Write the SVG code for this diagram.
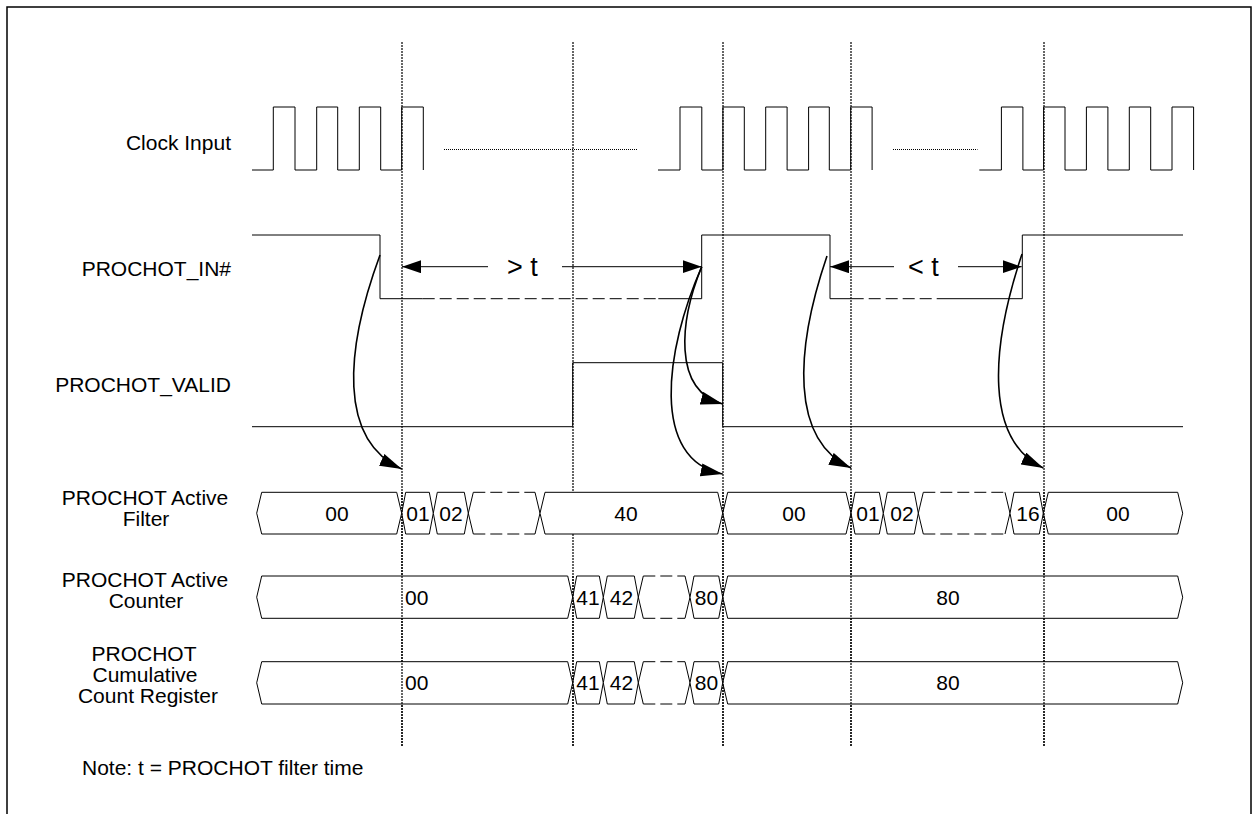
<svg xmlns="http://www.w3.org/2000/svg" width="1258" height="814" viewBox="0 0 1258 814">
<style>
text{font-family:"Liberation Sans",Arial,sans-serif;font-size:21px;fill:#000}
.lbl{text-anchor:end}
.mlbl{text-anchor:middle}
.bt{text-anchor:middle}
.sig{fill:none;stroke:#000;stroke-width:1}
.dash{fill:none;stroke:#000;stroke-width:1;stroke-dasharray:12 5}
.dot{fill:none;stroke:#000;stroke-width:1;stroke-dasharray:1 1}
.vl{fill:none;stroke:#000;stroke-width:1.2;stroke-dasharray:2 1}
.bus{fill:#fff;stroke:#000;stroke-width:1}
.arr{fill:none;stroke:#000;stroke-width:1;marker-end:url(#ah)}
.carr{fill:none;stroke:#000;stroke-width:1.6;marker-end:url(#ch)}
</style>
<defs>
<marker id="ah" markerUnits="userSpaceOnUse" markerWidth="20" markerHeight="14" refX="19" refY="6.5" orient="auto"><path d="M0,0 L19,6.5 L0,13 z" fill="#000"/></marker>
<marker id="ch" markerUnits="userSpaceOnUse" markerWidth="24" markerHeight="14" refX="22" refY="6.5" orient="auto"><path d="M0,0 L22,6.5 L0,13 z" fill="#000"/></marker>
</defs>
<rect width="1258" height="814" fill="#fff"/>
<path d="M7,814 V7 H1251 V814" fill="none" stroke="#000" stroke-width="1.5"/>

<g id="gridlines">
<path class="vl" d="M402,42 V747 M573,42 V747 M723,42 V747 M851,42 V747 M1044,42 V747"/>
</g>

<g id="clock">
<text class="lbl" x="231" y="150">Clock Input</text>
<path class="sig" d="M252,170 H273.3 V107 H295 V170 H316.7 V107 H337.7 V170 H359.3 V107 H380.7 V170 H401.7 V107 H423.3 V170"/>
<path class="sig" d="M658,170 H680 V107 H701.8 V170 H722.9 V107 H744.3 V170 H765.7 V107 H787.1 V170 H808.6 V107 H829.3 V170 H850.7 V107 H872.1 V170"/>
<path class="sig" d="M979.3,170 H1001.4 V107 H1022.9 V170 H1043.6 V107 H1065 V170 H1086.4 V107 H1107.9 V170 H1129.3 V107 H1150.7 V170 H1172 V107 H1193.6 V170"/>
<path class="dot" d="M444,149.5 H637 M893,149.5 H977.5"/>
</g>

<g id="prochot_in">
<text class="lbl" x="231" y="276">PROCHOT_IN#</text>
<path class="sig" d="M252,235 H380 V298.7 H422.7"/>
<path class="dash" d="M422.7,298.7 H658.3"/>
<path class="sig" d="M658.3,298.7 H701.7 V235 H830 V298.7 H851.7"/>
<path class="dash" d="M851.7,298.7 H936.7"/>
<path class="sig" d="M936.7,298.7 H1022.3 V235 H1183"/>
</g>

<g id="prochot_valid">
<text class="lbl" x="231" y="392">PROCHOT_VALID</text>
<path class="sig" d="M252,426.7 H572.7 V362.7 H722.7 V426.7 H1183"/>
</g>

<g id="active_filter">
<text class="mlbl" x="145" y="505">PROCHOT Active</text>
<text class="mlbl" x="146" y="526">Filter</text>
<polygon class="bus" points="256.7,513.2 261.7,492.3 396.7,492.3 401.7,513.2 396.7,534 261.7,534"/>
<text class="bt" x="337" y="520.5">00</text>
<polygon class="bus" points="401.7,513.2 405.7,492.3 429.3,492.3 433.3,513.2 429.3,534 405.7,534"/>
<text class="bt" x="418" y="520.5">01</text>
<polygon class="bus" points="433.3,513.2 437.3,492.3 464.3,492.3 468.3,513.2 464.3,534 437.3,534"/>
<text class="bt" x="451" y="520.5">02</text>
<path class="sig" d="M473.3,492.3 L468.3,513.2 L473.3,534 M535,492.3 L540,513.2 L535,534"/>
<path class="dash" d="M473.3,492.3 H535 M473.3,534 H535"/>
<polygon class="bus" points="540,513.2 545,492.3 717.7,492.3 722.7,513.2 717.7,534 545,534"/>
<text class="bt" x="626" y="520.5">40</text>
<polygon class="bus" points="722.7,513.2 727.7,492.3 846,492.3 851,513.2 846,534 727.7,534"/>
<text class="bt" x="794" y="520.5">00</text>
<polygon class="bus" points="851,513.2 855,492.3 879.3,492.3 883.3,513.2 879.3,534 855,534"/>
<text class="bt" x="868" y="520.5">01</text>
<polygon class="bus" points="883.3,513.2 887.3,492.3 914.3,492.3 918.3,513.2 914.3,534 887.3,534"/>
<text class="bt" x="902" y="520.5">02</text>
<path class="sig" d="M923.3,492.3 L918.3,513.2 L923.3,534 M1005,492.3 L1010,513.2 L1005,534"/>
<path class="dash" d="M923.3,492.3 H1005 M923.3,534 H1005"/>
<polygon class="bus" points="1010,513.2 1014,492.3 1039.3,492.3 1043.3,513.2 1039.3,534 1014,534"/>
<text class="bt" x="1028" y="520.5">16</text>
<polygon class="bus" points="1043.3,513.2 1048.3,492.3 1177.7,492.3 1182.7,513.2 1177.7,534 1048.3,534"/>
<text class="bt" x="1118" y="520.5">00</text>
</g>

<g id="active_counter">
<text class="mlbl" x="145" y="587">PROCHOT Active</text>
<text class="mlbl" x="146" y="608">Counter</text>
<polygon class="bus" points="256.7,597.2 261.7,576 567.7,576 572.7,597.2 567.7,618.3 261.7,618.3"/>
<text x="405" y="604.5">00</text>
<polygon class="bus" points="572.7,597.2 576.7,576 599.3,576 603.3,597.2 599.3,618.3 576.7,618.3"/>
<text class="bt" x="588" y="604.5">41</text>
<polygon class="bus" points="603.3,597.2 607.3,576 634.3,576 638.3,597.2 634.3,618.3 607.3,618.3"/>
<text class="bt" x="621.5" y="604.5">42</text>
<path class="sig" d="M643.3,576 L638.3,597.2 L643.3,618.3 M685,576 L690,597.2 L685,618.3"/>
<path class="dash" d="M643.3,576 H685 M643.3,618.3 H685"/>
<polygon class="bus" points="690,597.2 694,576 718.7,576 722.7,597.2 718.7,618.3 694,618.3"/>
<text class="bt" x="706.5" y="604.5">80</text>
<polygon class="bus" points="722.7,597.2 727.7,576 1177.7,576 1182.7,597.2 1177.7,618.3 727.7,618.3"/>
<text class="bt" x="948" y="604.5">80</text>
</g>

<g id="cumulative_count">
<text class="mlbl" x="144" y="661">PROCHOT</text>
<text class="mlbl" x="145" y="682">Cumulative</text>
<text class="mlbl" x="148" y="703">Count Register</text>
<polygon class="bus" points="256.7,682.8 261.7,661.7 567.7,661.7 572.7,682.8 567.7,704 261.7,704"/>
<text x="405" y="690">00</text>
<polygon class="bus" points="572.7,682.8 576.7,661.7 599.3,661.7 603.3,682.8 599.3,704 576.7,704"/>
<text class="bt" x="588" y="690">41</text>
<polygon class="bus" points="603.3,682.8 607.3,661.7 634.3,661.7 638.3,682.8 634.3,704 607.3,704"/>
<text class="bt" x="621.5" y="690">42</text>
<path class="sig" d="M643.3,661.7 L638.3,682.8 L643.3,704 M685,661.7 L690,682.8 L685,704"/>
<path class="dash" d="M643.3,661.7 H685 M643.3,704 H685"/>
<polygon class="bus" points="690,682.8 694,661.7 718.7,661.7 722.7,682.8 718.7,704 694,704"/>
<text class="bt" x="706.5" y="690">80</text>
<polygon class="bus" points="722.7,682.8 727.7,661.7 1177.7,661.7 1182.7,682.8 1177.7,704 727.7,704"/>
<text class="bt" x="948" y="690">80</text>
</g>

<g id="gridlines-over">
<path class="vl" d="M402,492 V747 M573,576 V747 M723,492 V747 M851,492 V747 M1044,492 V747"/>
</g>

<g id="connectors">
<path class="arr" d="M488,266.7 H402"/>
<path class="arr" d="M562,266.7 H701.7"/>
<text x="507" y="276" style="font-size:27px">&gt; t</text>
<path class="arr" d="M894,266.7 H830"/>
<path class="arr" d="M958,266.7 H1021.7"/>
<text x="908" y="276" style="font-size:27px">&lt; t</text>
<path class="carr" d="M380,255 C345,350 338,440 401.7,469"/>
<path class="carr" d="M701.7,266.7 C680,320 672,390 722.7,404"/>
<path class="carr" d="M701.7,266.7 C665,350 650,460 722.7,474"/>
<path class="carr" d="M827,256 C795,350 790,440 851,468"/>
<path class="carr" d="M1022,254 C990,350 985,440 1043.3,468"/>
</g>

<g id="note">
<text x="82" y="775">Note: t = PROCHOT filter time</text>
</g>
</svg>
